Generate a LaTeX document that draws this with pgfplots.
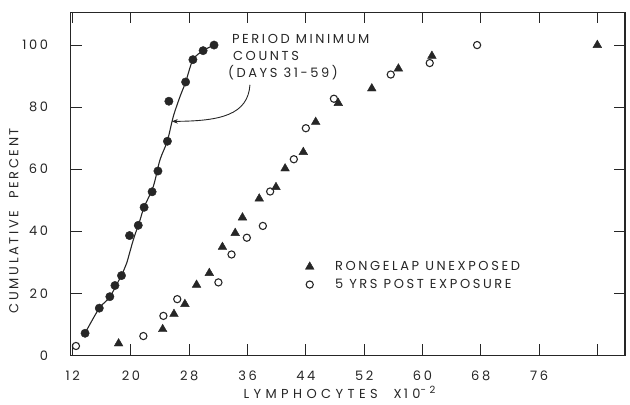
\documentclass[border=0pt]{standalone}
\usepackage{fontspec}
\setmainfont{Poppins}
\newfontfamily\leroy[LetterSpace=20]{Poppins}
\newfontfamily\leroywide[LetterSpace=34]{Poppins}
\usepackage{pgfplots}
\pgfplotsset{compat=1.18}
\usetikzlibrary{arrows.meta}

\newcommand\lab{\leroy\fontsize{13bp}{17bp}\selectfont}

\begin{document}
\begin{tikzpicture}
\useasboundingbox (0,0) rectangle (630bp,405bp);
\begin{axis}[
  at={(70.5bp,49.7bp)}, anchor=south west,
  scale only axis, width=554.5bp, height=342.8bp,
  xmin=11.7, xmax=87.8, ymin=0, ymax=110.5,
  axis line style={line width=1.3bp, black!85},
  xtick={12,20,...,84},
  xticklabels={12,20,28,36,44,52,60,68,76,},
  ytick={0,20,...,100},
  tick align=inside, major tick length=11bp,
  tick style={line width=1bp, black!85},
  /pgf/number format/assume math mode=true,
  ticklabel style={font=\lab, text=black!85},
  xticklabel style={yshift=-12bp},
  yticklabel style={xshift=-19bp},
  xlabel={LYMPHOCYTES\ \ X\,10\raisebox{5bp}{\fontsize{10bp}{12bp}\selectfont -2}},
  ylabel={CUMULATIVE\ \ PERCENT},
  label style={font=\lab, text=black!85},
  xlabel style={font=\leroywide\fontsize{13bp}{17bp}\selectfont,
    at={(axis description cs:0.485,-0.107)}, anchor=center},
  ylabel style={at={(axis description cs:-0.102,0.393)}, anchor=center},
  legend style={draw=none, fill=none, font=\lab, text=black!85,
    at={(axis cs:43.5,31.6)}, anchor=north west, row sep=3bp,
    /tikz/every odd column/.append style={column sep=19bp}},
  legend cell align=left,
  legend image code/.code={\draw[#1] plot coordinates {(0bp,0bp)};},
]
% legend entries
\addlegendimage{only marks, mark=triangle*, mark size=5bp, black!85}
\addlegendentry{RONGELAP UNEXPOSED}
\addlegendimage{only marks, mark=o, mark size=3.6bp, line width=1.1bp, black!85}
\addlegendentry{5 YRS POST EXPOSURE}

% fitted curve through the period minimum counts
\addplot[forget plot, smooth, line width=1.1bp, black!85] coordinates {
  (13.69,7.1) (15.65,15.2) (17.12,18.9) (18.94,27.0) (19.41,29.7)
  (20.32,37.2) (21.24,43.6) (21.79,47.7) (23.06,54.4) (23.98,63.0)
  (24.98,69.0) (25.81,77.0) (26.73,83.4) (27.51,88.1) (28.51,95.3)
  (29.92,98.2) (31.39,100)
};

% period minimum counts (days 31-59)
\addplot[forget plot, only marks, mark=*, mark size=4.2bp, black!85] coordinates {
  (13.7,7.1) (15.65,15.2) (17.1,18.9) (17.8,22.5) (18.7,25.7)
  (19.8,38.6) (21.0,41.9) (21.8,47.7) (22.9,52.7) (23.7,59.4)
  (25.0,69.0) (25.2,81.9) (27.5,88.1) (28.5,95.3) (29.9,98.2)
  (31.4,100)
};

% 5 years post exposure
\addplot[forget plot, only marks, mark=o, mark size=3.6bp, line width=1.1bp,
  black!85, mark options={fill=white}] coordinates {
  (12.45,3.0) (21.7,6.2) (24.45,12.7) (26.35,18.1) (32.0,23.5)
  (33.8,32.5) (35.9,37.9) (38.1,41.7) (39.1,52.8) (42.35,63.2)
  (44.0,73.2) (47.85,82.7) (55.65,90.5) (61.0,94.2) (67.5,100)
};

% Rongelap unexposed
\addplot[forget plot, only marks, mark=triangle*, mark size=5bp, black!85] coordinates {
  (18.3,3.8) (24.35,8.4) (25.9,13.3) (27.4,16.5) (29.0,22.7)
  (30.75,26.5) (32.55,34.9) (34.3,39.4) (35.3,44.4) (37.6,50.5)
  (39.9,54.2) (41.15,60.2) (43.65,65.5) (45.35,75.2) (48.45,81.3)
  (53.05,86.0) (56.7,92.4) (61.3,96.5) (84.0,100)
};

% annotation of the curve
\node[font=\lab, text=black!85, align=left, anchor=north west, inner sep=0pt]
  at (axis cs:33.3,103.6) {\hspace*{4bp}PERIOD MINIMUM\\\hspace*{5bp}COUNTS\\(DAYS 31-59)};
\draw[line width=0.9bp, black!85, -{Stealth[length=6bp,width=4.5bp]}]
  (axis cs:36.33,87.2) .. controls (axis cs:36.05,77.4) and (axis cs:32.2,75.5)
  .. (axis cs:25.6,75.4);
\end{axis}
\end{tikzpicture}
\end{document}
